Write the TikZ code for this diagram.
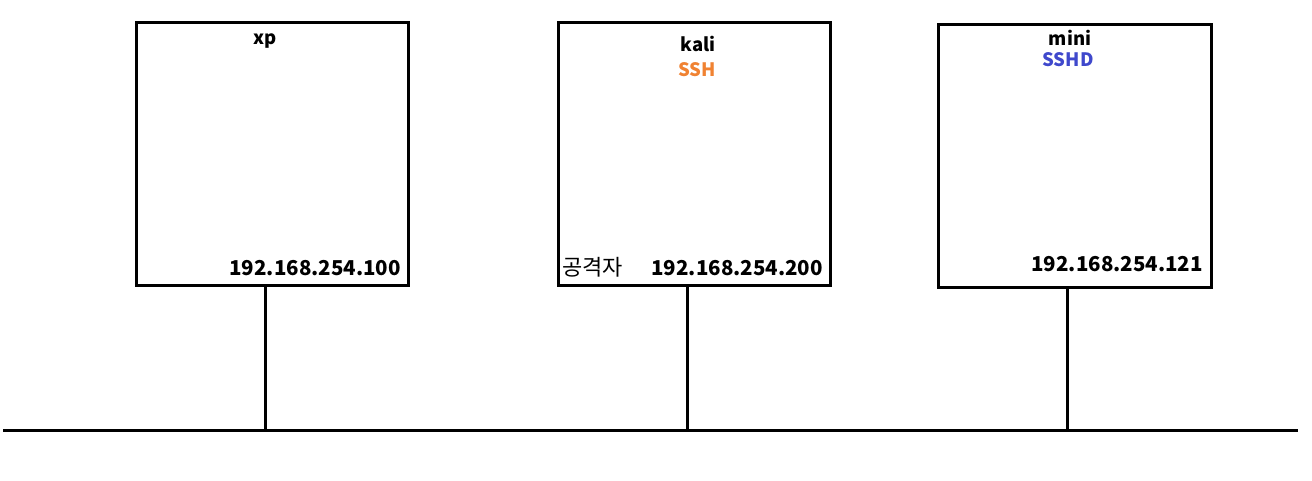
\documentclass[tikz,border=0pt]{standalone}
\usepackage{fontspec}
\setmainfont{Noto Sans CJK KR}
\definecolor{sshorange}{HTML}{F08232}
\definecolor{sshdblue}{HTML}{3F48CC}
\begin{document}
\begin{tikzpicture}[x=1pt,y=-1pt,
  hostbox/.style={draw,line width=3pt,inner sep=0pt},
  wire/.style={line width=3pt},
  lbl/.style={inner sep=0pt,font=\fontsize{18.5}{20}\selectfont\bfseries},
  iplbl/.style={inner sep=0pt,anchor=base east,font=\fontsize{20.5}{22}\selectfont\bfseries}]
\useasboundingbox (0,0) rectangle (1312,481);
% boxes
\node[hostbox,minimum width=272pt,minimum height=262pt] (xp) at (272,154) {};
\node[hostbox,minimum width=272pt,minimum height=263pt] (kali) at (694,154) {};
\node[hostbox,minimum width=273pt,minimum height=262pt] (mini) at (1074.5,156) {};
% labels
\node[lbl,anchor=base] (xpname) at (265,45) {xp};
\node[lbl,anchor=base] (kaliname) at (698,52) {kali};
\node[lbl,anchor=base,text=sshorange] (ssh) at (697,77) {SSH};
\node[lbl,anchor=base] (mininame) at (1070,46) {mini};
\node[lbl,anchor=base,text=sshdblue] (sshd) at (1068,67) {SSHD};
\node[iplbl] (xpip) at (401,275) {192.168.254.100};
\node[iplbl] (kaliip) at (823,275) {192.168.254.200};
\node[iplbl,anchor=base west,font=\fontsize{22}{24}\selectfont\mdseries] (attacker) at (562,276) {공격자};
\node[iplbl] (miniip) at (1203,272) {192.168.254.121};
% bus
\coordinate (busL) at (3,430);
\coordinate (busR) at (1298,430);
\draw[wire] (busL) -- (busR);
\coordinate (xpbus) at (265,430);
\coordinate (kalibus) at (687,430);
\coordinate (minibus) at (1067,430);
\draw[wire] (xp.south -| xpbus) -- (xpbus);
\draw[wire] (kali.south -| kalibus) -- (kalibus);
\draw[wire] (mini.south -| minibus) -- (minibus);
\end{tikzpicture}
\end{document}
